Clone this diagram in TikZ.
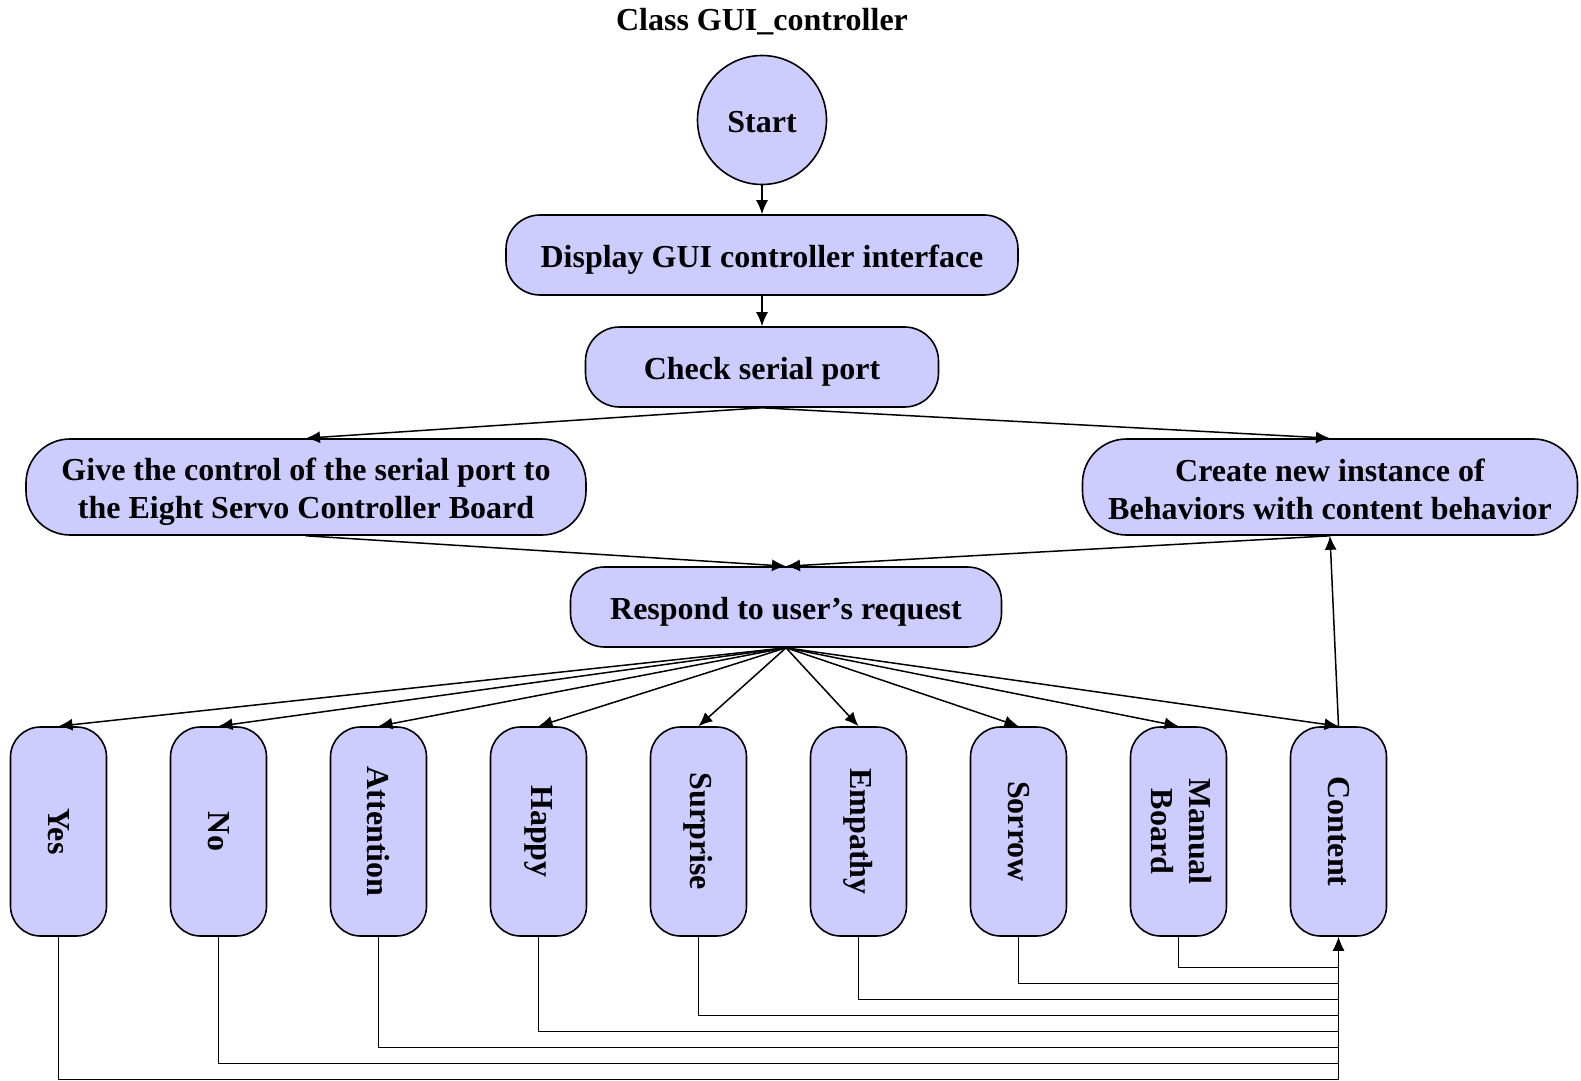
\documentclass[tikz,border=0pt]{standalone}
\usepackage{fontspec}
\setmainfont{Liberation Serif}
\usetikzlibrary{arrows.meta,positioning,calc}
\definecolor{boxfill}{HTML}{CCCCFF}
\newcommand{\lowr}{\rule{0pt}{16pt}}
\tikzset{
  every node/.style={font=\fontsize{16pt}{19pt}\selectfont\bfseries},
  hbox/.style={draw=black, line width=0.8pt, fill=boxfill, rounded corners=17pt, align=center, inner sep=0pt, minimum height=40pt},
  vbox/.style={draw=black, line width=0.8pt, fill=boxfill, rounded corners=15pt, inner sep=0pt, minimum width=48pt, minimum height=104.5pt},
  startnode/.style={draw=black, line width=0.8pt, fill=boxfill, circle, inner sep=0pt, minimum size=64.5pt},
  conn/.style={line width=0.75pt, -{Latex[length=7pt,width=6pt]}},
  bus/.style={line width=0.55pt},
}
\begin{document}
\begin{tikzpicture}[x=0.5pt,y=-0.5pt]
\useasboundingbox (0,0) rectangle (1581,1081);
\node (title) at (762,22) {Class GUI\_controller};
\node[startnode] (start) at (762,120) {\rule{0pt}{12.5pt}Start};
\node[hbox, minimum width=256pt] (display) at (762,255) {\lowr Display GUI controller interface};
\node[hbox, minimum width=176.5pt] (check) at (762,367) {\lowr Check serial port};
\node[hbox, minimum width=280pt, minimum height=48pt, rounded corners=22pt] (give) at (306,487) {\rule{0pt}{16.5pt}Give the control of the serial port to\\the Eight Servo Controller Board};
\node[hbox, minimum width=247.5pt, minimum height=48pt, rounded corners=22pt] (create) at (1330,487) {\rule{0pt}{13.5pt}Create new instance of\\Behaviors with content behavior};
\node[hbox, minimum width=215.5pt] (respond) at (786,607) {\lowr Respond to user’s request};

\node[vbox] (yes) at (58.5,831.5) {\rotatebox{-90}{Yes}};
\node[vbox] (no) at (218.5,831.5) {\rotatebox{-90}{No}};
\node[vbox] (attention) at (378.5,831.5) {\rotatebox{-90}{Attention}};
\node[vbox] (happy) at (538.5,831.5) {\rotatebox{-90}{Happy}};
\node[vbox] (surprise) at (698.5,831.5) {\rotatebox{-90}{Surprise}};
\node[vbox] (empathy) at (858.5,831.5) {\rotatebox{-90}{Empathy}};
\node[vbox] (sorrow) at (1018.5,831.5) {\rotatebox{-90}{Sorrow}};
\node[vbox] (manual) at (1178.5,831.5) {\rotatebox{-90}{\begin{tabular}{@{}c@{}}Manual\\Board\end{tabular}}};
\node[vbox] (content) at (1338.5,831.5) {\rotatebox{-90}{Content}};

\draw[conn] (start.south) -- (display.north);
\draw[conn] (display.south) -- (check.north);
\draw[conn] (check.south) -- (give.north);
\draw[conn] (check.south) -- (create.north);
\draw[conn] (give.south) -- (respond.north);
\draw[conn] (create.south) -- (respond.north);
\foreach \n in {yes,no,attention,happy,surprise,empathy,sorrow,manual,content}
  \draw[conn] (respond.south) -- (\n.north);
\draw[conn] (content.north) -- (create.south);

\path (content.south) ++(0,31) coordinate (lv1)
      (content.south) ++(0,47) coordinate (lv2)
      (content.south) ++(0,63) coordinate (lv3)
      (content.south) ++(0,79) coordinate (lv4)
      (content.south) ++(0,95) coordinate (lv5)
      (content.south) ++(0,111) coordinate (lv6)
      (content.south) ++(0,127) coordinate (lv7)
      (content.south) ++(0,143) coordinate (lv8);
\draw[bus] (manual.south) |- (lv1);
\draw[bus] (sorrow.south) |- (lv2);
\draw[bus] (empathy.south) |- (lv3);
\draw[bus] (surprise.south) |- (lv4);
\draw[bus] (happy.south) |- (lv5);
\draw[bus] (attention.south) |- (lv6);
\draw[bus] (no.south) |- (lv7);
\draw[bus] (yes.south) |- (lv8);
\draw[bus, -{Latex[length=7pt,width=6pt]}] (lv8) -- (content.south);
\end{tikzpicture}
\end{document}
